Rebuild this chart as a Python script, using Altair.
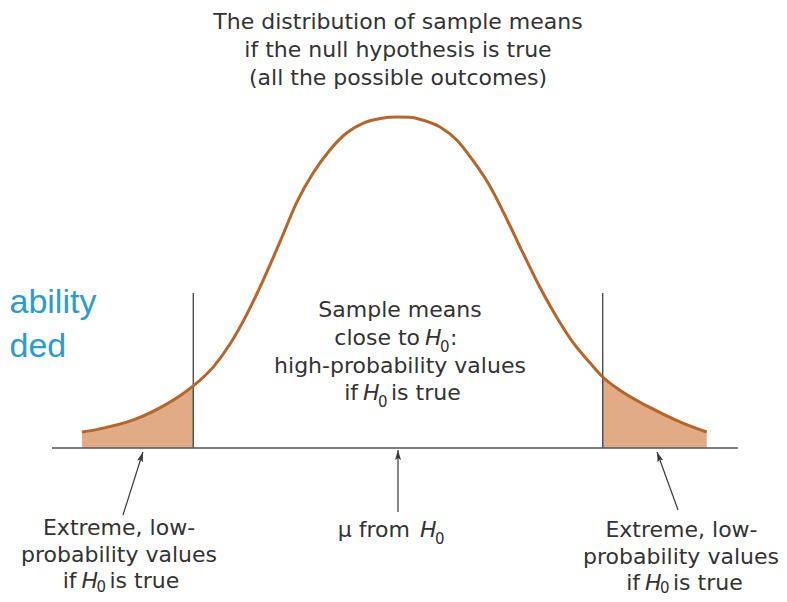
import altair as alt
import numpy as np
import pandas as pd

# ---- curve (z in standard-error units, h = density) ----
curve_z = [-3.01, -2.84, -2.52, -2.20, -2.08, -1.95, -1.76, -1.60, -1.44, -1.29,
           -1.12, -0.96, -0.81, -0.65, -0.49, -0.33, -0.17, -0.01, 0.11, 0.24,
           0.40, 0.56, 0.71, 0.88, 1.04, 1.19, 1.35, 1.51, 1.67, 1.83,
           1.95, 2.11, 2.37, 2.69, 2.94]
curve_h = [0.0194, 0.0232, 0.0340, 0.0535, 0.0630, 0.0752, 0.0980, 0.1260, 0.1620, 0.2018,
           0.2510, 0.2990, 0.3330, 0.3610, 0.3818, 0.3939, 0.3995, 0.4012, 0.4008, 0.3972,
           0.3891, 0.3733, 0.3491, 0.3164, 0.2764, 0.2364, 0.1952, 0.1588, 0.1273, 0.1030,
           0.0861, 0.0703, 0.0510, 0.0315, 0.0194]

critical_z = [-1.95, 1.95]
critical_top = 0.188
baseline_z = [-3.295, 3.238]

# ---- arrows (tail -> tip) ----
arrow_z0 = [-2.619, 0.0, 2.667]
arrow_y0 = [-0.0812, -0.0776, -0.0752]
arrow_z1 = [-2.429, 0.0, 2.467]
arrow_y1 = [-0.0048, -0.0024, -0.0048]

# ---- text segments ----
text_labels = [
    "The distribution of sample means", "if the null hypothesis is true", "(all the possible outcomes)",
    "Sample means", "high-probability values",
    "close to", "H", "0", ":",
    "if", "H", "0", "is true",
    "μ from", "H", "0",
    "Extreme, low-", "probability values", "if", "H", "0", "is true",
    "Extreme, low-", "probability values", "if", "H", "0", "is true",
    "ability", "ded",
]
text_role = [
    "center", "center", "center",
    "center", "center",
    "right", "italic", "sub", "left",
    "right", "italic", "sub", "left",
    "right", "italic", "sub",
    "center", "center", "right", "italic", "sub", "left",
    "center", "center", "right", "italic", "sub", "left",
    "blue", "blue",
]
text_z = [
    0.0, 0.0, 0.0,
    0.019, 0.019,
    0.210, 0.257, 0.400, 0.495,
    -0.381, -0.333, -0.190, -0.067,
    0.114, 0.210, 0.352,
    -2.657, -2.657, -3.062, -3.014, -2.871, -2.748,
    2.700, 2.695, 2.305, 2.352, 2.495, 2.619,
    -3.700, -3.700,
]
text_y = [
    0.5079, 0.4739, 0.4400,
    0.1588, 0.0909,
    0.1248, 0.1248, 0.1164, 0.1248,
    0.0582, 0.0582, 0.0497, 0.0582,
    -0.1079, -0.1079, -0.1164,
    -0.1055, -0.1382, -0.1697, -0.1697, -0.1745, -0.1697,
    -0.1079, -0.1406, -0.1721, -0.1721, -0.1760, -0.1721,
    0.1636, 0.1103,
]

# ---- styling ----
TEXT = "#333333"
CURVE = "#b8652a"
FILL = "#e0ab85"
BLUE = "#2b9bd3"
FONT = "DejaVu Sans"
ARROW = "M0,0 L0.3,1 L0,0.8 L-0.3,1 Z"

xs = alt.Scale(domain=[-3.7143, 3.6286], nice=False, zero=False)
ys = alt.Scale(domain=[-0.17697, 0.53333], nice=False, zero=False)


def X(f="z"):
    return alt.X(f"{f}:Q", scale=xs, axis=None)


def Y(f="h"):
    return alt.Y(f"{f}:Q", scale=ys, axis=None)


curve = pd.DataFrame({"z": curve_z, "h": curve_h})

left_tail = alt.Chart(curve).transform_filter(alt.datum.z <= critical_z[0]).mark_area(
    color=FILL, interpolate="monotone", opacity=1
).encode(x=X(), y=Y(), y2=alt.Y2(datum=0))
right_tail = alt.Chart(curve).transform_filter(alt.datum.z >= critical_z[1]).mark_area(
    color=FILL, interpolate="monotone", opacity=1
).encode(x=X(), y=Y(), y2=alt.Y2(datum=0))

crit = pd.DataFrame({"z": critical_z, "y0": [0, 0], "y1": [critical_top] * 2})
crit_rules = alt.Chart(crit).mark_rule(color="#333333", strokeWidth=1.2).encode(
    x=X(), y=Y("y0"), y2="y1:Q"
)

base = pd.DataFrame({"z0": [baseline_z[0]], "z1": [baseline_z[1]], "y": [0]})
base_rule = alt.Chart(base).mark_rule(color="#555555", strokeWidth=1.5).encode(
    x=X("z0"), x2="z1:Q", y=Y("y")
)

curve_line = alt.Chart(curve).mark_line(
    color=CURVE, strokeWidth=3, interpolate="monotone"
).encode(x=X(), y=Y())

arr = pd.DataFrame({"z0": arrow_z0, "y0": arrow_y0, "z1": arrow_z1, "y1": arrow_y1})
dx = (arr["z1"] - arr["z0"]) * 105.0
dy = (arr["y1"] - arr["y0"]) * 825.0
arr["ang"] = np.mod(np.degrees(np.arctan2(dx, dy)), 360)
arrow_lines = alt.Chart(arr).mark_rule(color="#3a3a3a", strokeWidth=1.2).encode(
    x=X("z0"), y=Y("y0"), x2="z1:Q", y2="y1:Q"
)
arrow_heads = alt.Chart(arr).mark_point(
    shape=ARROW, filled=True, size=400, color="#3a3a3a", opacity=1, strokeWidth=0
).encode(x=X("z1"), y=Y("y1"), angle=alt.Angle("ang:Q", scale=None))

texts = pd.DataFrame({"label": text_labels, "role": text_role, "z": text_z, "y": text_y})
styles = {
    "center": dict(align="center", fontSize=22, fontStyle="normal", color=TEXT, font=FONT),
    "right": dict(align="right", fontSize=22, fontStyle="normal", color=TEXT, font=FONT),
    "left": dict(align="left", fontSize=22, fontStyle="normal", color=TEXT, font=FONT),
    "italic": dict(align="left", fontSize=22, fontStyle="italic", color=TEXT, font=FONT),
    "sub": dict(align="left", fontSize=15, fontStyle="normal", color=TEXT, font=FONT),
    "blue": dict(align="left", fontSize=34, fontStyle="normal", color=BLUE, font="Liberation Sans"),
}
text_layers = []
for role, st in styles.items():
    sub = texts[texts["role"] == role]
    text_layers.append(
        alt.Chart(sub).mark_text(baseline="alphabetic", **st).encode(
            x=X("z"), y=Y("y"), text="label:N"
        )
    )

chart = alt.layer(
    left_tail, right_tail, crit_rules, base_rule, curve_line,
    arrow_lines, arrow_heads, *text_layers
).properties(
    width=771, height=586, padding=0,
    autosize=alt.AutoSizeParams(type="none"),
).configure_view(stroke=None)

chart.save("out.html", embed_options={"renderer": "svg", "actions": False})
